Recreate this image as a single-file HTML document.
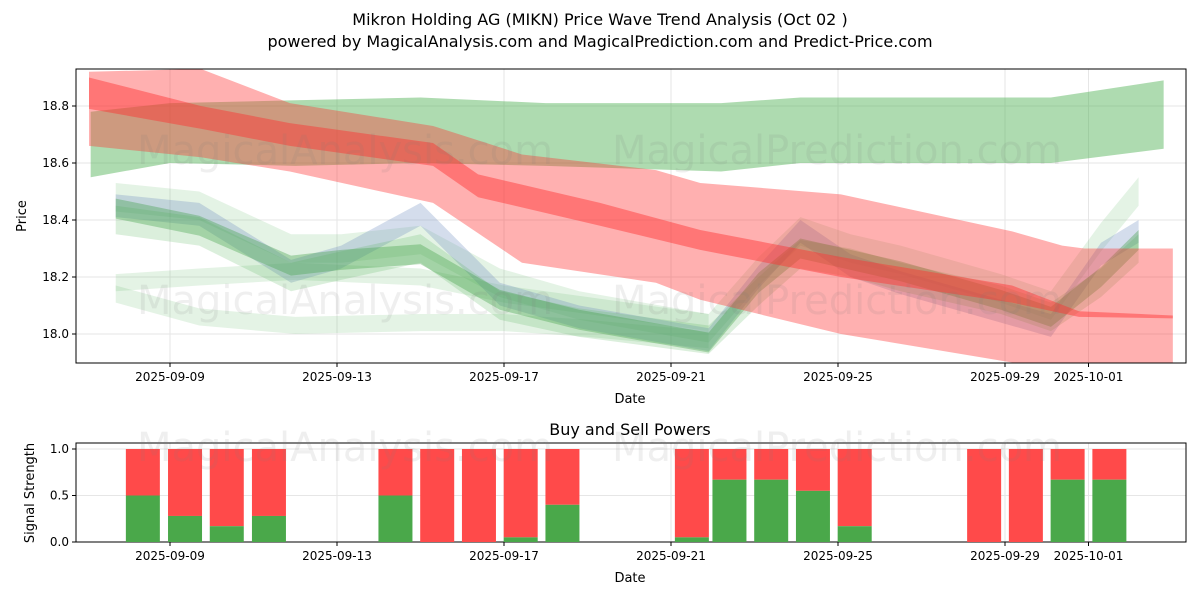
<!DOCTYPE html>
<html><head><meta charset="utf-8"><style>
body{margin:0;background:#fff;}
svg{display:block;font-family:"DejaVu Sans","Liberation Sans",sans-serif;}
</style></head><body>
<svg id="chart" width="1200" height="600" viewBox="0 0 1200 600">
<rect width="1200" height="600" fill="#fff"/>
<text x="600" y="25" text-anchor="middle" font-size="16">Mikron Holding AG (MIKN) Price Wave Trend Analysis (Oct 02 )</text>
<text x="600" y="47" text-anchor="middle" font-size="16">powered by MagicalAnalysis.com and MagicalPrediction.com and Predict-Price.com</text>
<g id="topPlot"></g>
<g id="botPlot"></g>
</svg>
<script>
const tickDates = ["2025-09-09","2025-09-13","2025-09-17","2025-09-21","2025-09-25","2025-09-29","2025-10-01"];
const tickDays = [0,4,8,12,16,20,22];
const priceTicks = [18.0,18.2,18.4,18.6,18.8];
const greenTopDays = [-1.9,0,3,6,9,13.2,15.1,18,21.1,23.8];
const greenTopLow = [18.55,18.6,18.59,18.6,18.59,18.57,18.6,18.6,18.6,18.65];
const greenTopHigh = [18.78,18.81,18.82,18.83,18.81,18.81,18.83,18.83,18.83,18.89];
const redDays = [-1.94,0.74,2.87,6.3,8.43,11.64,12.7,16.07,20.17,21.37,21.9,24.02];
const redHigh = [18.92,18.93,18.81,18.73,18.63,18.575,18.53,18.49,18.36,18.31,18.3,18.3];
const redLow = [18.66,18.62,18.57,18.46,18.25,18.18,18.12,18.0,17.9,17.85,17.8,17.8];
const coreDays = [-1.94,0.74,2.87,6.3,7.38,10.3,12.7,16.07,20.17,21.77,24.02];
const coreHigh = [18.9,18.8,18.74,18.67,18.56,18.46,18.365,18.27,18.17,18.08,18.065];
const coreLow = [18.79,18.72,18.66,18.59,18.48,18.38,18.295,18.2,18.11,18.06,18.055];
const waveDays = [-1.3,0.7,2.9,4.1,6,7.9,9.8,12.9,14.1,15.1,16.3,17.5,19.9,21.1,22.3,23.2];
const waveBlue = [18.45,18.42,18.22,18.27,18.42,18.14,18.06,17.98,18.2,18.36,18.24,18.18,18.08,18.03,18.28,18.36];
const waveGreen = [18.44,18.38,18.24,18.26,18.28,18.12,18.05,17.97,18.18,18.3,18.26,18.22,18.12,18.06,18.2,18.33];
const waveGreen2 = [18.48,18.45,18.3,18.3,18.33,18.18,18.1,18.02,18.22,18.36,18.3,18.26,18.16,18.1,18.34,18.5];
const waveBrown = [18.4,18.36,18.2,18.24,18.3,18.1,18.04,17.98,18.15,18.28,18.25,18.2,18.12,18.06,18.18,18.3];
const lowDays = [-1.3,0.7,3,6,8,10,12.9];
const lowGreen1 = [18.14,18.06,18.03,18.04,18.04,18.02,17.98];
const lowGreen2 = [18.18,18.2,18.22,18.2,18.14,18.1,18.04];
const barDays = [-0.65,0.36,1.36,2.37,5.4,6.4,7.4,8.4,9.4,12.5,13.4,14.4,15.4,16.4,19.5,20.5,21.5,22.5];
const barBuy = [0.5,0.28,0.17,0.28,0.5,0,0,0.05,0.4,0.05,0.67,0.67,0.55,0.17,0,0,0.67,0.67];
const sigTicks = [0,0.5,1.0];

const NS="http://www.w3.org/2000/svg";
const X0=76,X1=1186,TY0=69,TY1=363,BY0=443,BY1=542;
const xS=d=>170+d*41.75;
const yS=p=>334-(p-18)*285;
const yB=v=>542-v*93;
function mk(parent,tag,attrs){const e=document.createElementNS(NS,tag);for(const k in attrs)e.setAttribute(k,attrs[k]);parent.appendChild(e);return e;}
const topG=document.getElementById('topPlot'),botG=document.getElementById('botPlot');
const svgEl=document.getElementById('chart');
const defs=mk(svgEl,'defs',{});
const cp=mk(defs,'clipPath',{id:'clipTop'});mk(cp,'rect',{x:X0,y:TY0,width:X1-X0,height:TY1-TY0});

tickDays.forEach(d=>{
 let g=mk(topG,'line',{x1:xS(d),x2:xS(d),y1:TY0,y2:TY1,stroke:'#e6e6e6'});
 
 let g2=mk(botG,'line',{x1:xS(d),x2:xS(d),y1:BY0,y2:BY1,stroke:'#e6e6e6'});
 
});
priceTicks.forEach(p=>{
 let g=mk(topG,'line',{x1:X0,x2:X1,y1:yS(p),y2:yS(p),stroke:'#e6e6e6'});
 
});
sigTicks.forEach(v=>{
 let g=mk(botG,'line',{x1:X0,x2:X1,y1:yB(v),y2:yB(v),stroke:'#e6e6e6'});
 
});
[[345,150,'MagicalAnalysis.com'],[837,150,'MagicalPrediction.com'],[345,300,'MagicalAnalysis.com'],[837,300,'MagicalPrediction.com'],[345,447,'MagicalAnalysis.com'],[837,447,'MagicalPrediction.com']].forEach(w=>{
 let t=mk(svgEl,'text',{x:w[0],y:w[1]+14,'text-anchor':'middle','font-size':40,fill:'rgba(120,120,120,0.12)'});
 t.textContent=w[2];
 
});
const plot=mk(topG,'g',{'clip-path':'url(#clipTop)'});
function band(days,lo,hi,fill,op,name){
 let d='M'+days.map((v,i)=>xS(v)+','+yS(hi[i])).join('L');
 for(let i=days.length-1;i>=0;i--)d+='L'+xS(days[i])+','+yS(lo[i]);
 const p=mk(plot,'path',{d:d+'Z',fill:fill,'fill-opacity':op});
 
}
function off(arr,o){return arr.map(v=>v+o);}
band(greenTopDays,greenTopLow,greenTopHigh,'#4caf50',0.45,'green-upper-band');
band(lowDays,off(lowGreen1,-0.03),off(lowGreen1,0.03),'#4caf50',0.15,'green-low-band');
band(lowDays,off(lowGreen2,-0.03),off(lowGreen2,0.03),'#4caf50',0.15,'green-low-band');
band(waveDays,off(waveGreen2,-0.05),off(waveGreen2,0.05),'#4caf50',0.15,'green-wave-band');
band(waveDays,off(waveBlue,-0.04),off(waveBlue,0.04),'#6f8fc0',0.3,'blue-wave-band');
band(waveDays,off(waveGreen,-0.035),off(waveGreen,0.035),'#3a9a3e',0.35,'green-wave-band');
band(waveDays,off(waveBrown,-0.05),off(waveBrown,0.05),'#4caf50',0.2,'green-wave-band');
band(redDays,redLow,redHigh,'#ff3030',0.38,'red-wide-band');
band(coreDays,coreLow,coreHigh,'#ff3030',0.45,'red-core-band');

mk(topG,'rect',{x:X0,y:TY0,width:X1-X0,height:TY1-TY0,fill:'none',stroke:'#000'});
mk(botG,'rect',{x:X0,y:BY0,width:X1-X0,height:BY1-BY0,fill:'none',stroke:'#000'});
tickDays.forEach((d,i)=>{
 [[topG,TY1],[botG,BY1]].forEach(([g,y])=>{
  mk(g,'line',{x1:xS(d),x2:xS(d),y1:y,y2:y+4,stroke:'#000'});
  const t=mk(g,'text',{x:xS(d),y:y+18,'text-anchor':'middle','font-size':12});
  t.textContent=tickDates[i];
  
 });
});
priceTicks.forEach(p=>{
 mk(topG,'line',{x1:X0-4,x2:X0,y1:yS(p),y2:yS(p),stroke:'#000'});
 const t=mk(topG,'text',{x:X0-7,y:yS(p)+4,'text-anchor':'end','font-size':12});
 t.textContent=p.toFixed(1);
 
});
sigTicks.forEach(v=>{
 mk(botG,'line',{x1:X0-4,x2:X0,y1:yB(v),y2:yB(v),stroke:'#000'});
 const t=mk(botG,'text',{x:X0-7,y:yB(v)+4,'text-anchor':'end','font-size':12});
 t.textContent=v.toFixed(1);
 
});
barDays.forEach((d,i)=>{
 const x=xS(d)-17;
 const r=mk(botG,'rect',{x:x,y:yB(1),width:34,height:yB(barBuy[i])-yB(1),fill:'#ff4a4a'});
 
 const g=mk(botG,'rect',{x:x,y:yB(barBuy[i]),width:34,height:yB(0)-yB(barBuy[i]),fill:'#4aa84a'});
 
});
function label(g,x,y,txt,name,rot,size){
 const t=mk(g,'text',{x:x,y:y,'text-anchor':'middle','font-size':size||13});
 if(rot)t.setAttribute('transform','rotate(-90 '+x+' '+y+')');
 t.textContent=txt;
}
label(topG,630,403,'Date','x-axis-title');
label(topG,26,216,'Price','y-axis-title',true);
label(botG,630,582,'Date','x-axis-title');
label(botG,34,493,'Signal Strength','y-axis-title',true);
label(botG,630,435,'Buy and Sell Powers','subplot-title',false,16);
</script>
</body></html>
